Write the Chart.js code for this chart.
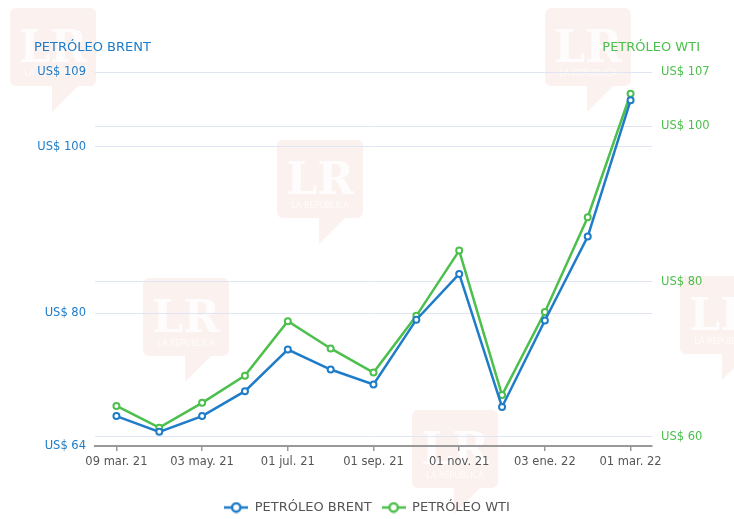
<!DOCTYPE html>
<html>
<head>
<meta charset="utf-8">
<script src="https://cdn.jsdelivr.net/npm/chart.js@4"></script>
<style>
html,body{margin:0;padding:0;background:#fff;}
#wrap{position:relative;width:734px;height:519px;}
</style>
</head>
<body>
<div id="wrap"><canvas id="c" width="734" height="519"></canvas></div>
<script>
const categories = ['09 mar. 21','abr. 21','03 may. 21','jun. 21','01 jul. 21','ago. 21','01 sep. 21','oct. 21','01 nov. 21','dic. 21','03 ene. 22','feb. 22','01 mar. 22'];
const brent = [67.6, 65.7, 67.6, 70.6, 75.6, 73.2, 71.4, 79.2, 84.7, 68.7, 79.1, 89.2, 105.6];
const wti   = [64.0, 61.2, 64.4, 67.9, 74.9, 71.4, 68.3, 75.6, 84.0, 65.4, 76.1, 88.3, 104.2];
const brentTicks = [64, 80, 100, 109];
const wtiTicks = [60, 80, 100, 107];
const brentName = 'PETRÓLEO BRENT';
const wtiName = 'PETRÓLEO WTI';

const BLUE = '#1f7cc8';
const GREEN = '#4cbf4c';
const FONT = '"DejaVu Sans", sans-serif';

function legendIcon(color){
  const cv = document.createElement('canvas');
  cv.width = 24; cv.height = 12;
  const g = cv.getContext('2d');
  g.strokeStyle = color; g.lineWidth = 2.5;
  g.beginPath(); g.moveTo(0,6); g.lineTo(24,6); g.stroke();
  g.fillStyle = '#fff';
  g.beginPath(); g.arc(12,6,4.2,0,Math.PI*2); g.fill(); g.stroke();
  return cv;
}
const icons = [legendIcon(BLUE), legendIcon(GREEN)];

const watermark = {
  id: 'watermark',
  beforeDraw(chart){
    const ctx = chart.ctx;
    const spots = [[10,8],[545,8],[277,140],[143,278],[412,410],[680,276]];
    ctx.save();
    spots.forEach(([x,y])=>{
      ctx.fillStyle = 'rgba(240,200,195,0.26)';
      ctx.beginPath();
      ctx.roundRect(x,y,86,78,6);
      ctx.fill();
      ctx.beginPath();
      ctx.moveTo(x+42,y+78); ctx.lineTo(x+68,y+78); ctx.lineTo(x+42,y+104); ctx.closePath();
      ctx.fill();
      ctx.fillStyle = 'rgba(255,255,255,0.8)';
      ctx.font = 'bold 44px "DejaVu Serif", serif';
      ctx.textAlign = 'center'; ctx.textBaseline = 'alphabetic';
      ctx.fillText('LR', x+43, y+54);
      ctx.font = '8px "DejaVu Sans", sans-serif';
      ctx.fillText('LA REPUBLICA', x+43, y+68);
    });
    ctx.restore();
  }
};

const axisTitles = {
  id: 'axisTitles',
  afterDraw(chart){
    const ctx = chart.ctx;
    const top = chart.chartArea.top;
    ctx.save();
    ctx.font = '13px ' + FONT;
    ctx.textBaseline = 'middle';
    ctx.fillStyle = BLUE; ctx.textAlign = 'left';
    ctx.fillText(brentName, 34, top - 24);
    ctx.fillStyle = GREEN; ctx.textAlign = 'right';
    ctx.fillText(wtiName, 700, top - 24);
    ctx.restore();
  }
};

function fixTicks(list){
  return scale => { scale.ticks = list.map(v => ({value: v})); };
}

new Chart(document.getElementById('c'), {
  type: 'line',
  data: {
    labels: categories,
    datasets: [
      {label: brentName, data: brent, yAxisID: 'yL', borderColor: BLUE, backgroundColor: '#fff',
       borderWidth: 2.5, pointRadius: 3, pointBorderWidth: 2, pointBackgroundColor: '#fff', pointBorderColor: BLUE, tension: 0},
      {label: wtiName, data: wti, yAxisID: 'yR', borderColor: GREEN, backgroundColor: '#fff',
       borderWidth: 2.5, pointRadius: 3, pointBorderWidth: 2, pointBackgroundColor: '#fff', pointBorderColor: GREEN, tension: 0}
    ]
  },
  options: {
    responsive: false,
    animation: false,
    layout: {padding: {top: 72, bottom: -5}},
    plugins: {
      tooltip: {enabled: false},
      legend: {
        position: 'bottom',
        labels: {
          usePointStyle: true,
          pointStyleWidth: 24,
          boxHeight: 12,
          padding: 10,
          color: '#555',
          font: {family: FONT, size: 13},
          generateLabels(chart){
            const items = Chart.defaults.plugins.legend.labels.generateLabels(chart);
            items.forEach((it,i)=>{ it.pointStyle = icons[i]; });
            return items;
          }
        }
      }
    },
    scales: {
      x: {
        offset: true,
        afterBuildTicks(scale){ scale.ticks = scale.ticks.filter((t,i)=> i % 2 === 0); },
        afterFit(scale){ scale.height = 45; },
        ticks: {autoSkip: false, maxRotation: 0, color: '#555', font: {family: FONT, size: 11.5}, padding: 4},
        grid: {drawOnChartArea: false, drawTicks: true, tickLength: 5, color: '#999', lineWidth: 1.5},
        border: {display: true, color: '#999', width: 2}
      },
      yL: {
        position: 'left',
        min: 64, max: 109,
        afterBuildTicks: fixTicks(brentTicks),
        afterFit(scale){ scale.width = 95; },
        ticks: {color: BLUE, font: {family: FONT, size: 11.5}, padding: 9, callback: v => 'US$ ' + v},
        grid: {color: '#dfe5f3', lineWidth: 1, drawTicks: false},
        border: {display: false}
      },
      yR: {
        position: 'right',
        min: 58.84, max: 107,
        afterBuildTicks: fixTicks(wtiTicks),
        afterFit(scale){ scale.width = 82; },
        ticks: {color: GREEN, font: {family: FONT, size: 11.5}, padding: 9, callback: v => 'US$ ' + v},
        grid: {color: '#dfe5f3', lineWidth: 1, drawTicks: false},
        border: {display: false}
      }
    }
  },
  plugins: [watermark, axisTitles]
});
</script>
</body>
</html>
